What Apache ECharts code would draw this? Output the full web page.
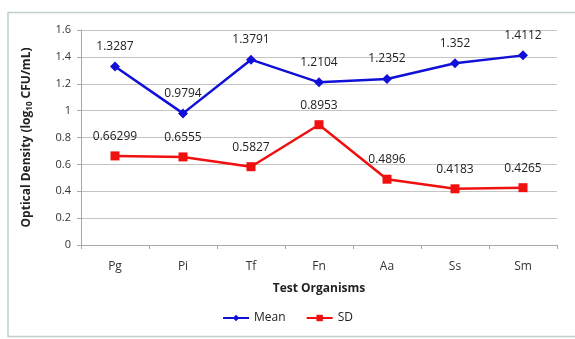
<!DOCTYPE html>
<html>
<head>
<meta charset="utf-8">
<script src="https://cdn.jsdelivr.net/npm/echarts@6/dist/echarts.min.js"></script>
<style>
html,body{margin:0;padding:0;background:#fff;}
#chart{width:575px;height:339px;}
</style>
</head>
<body>
<div id="chart"></div>
<script>
// Test organisms on the x axis
const organisms = ['Pg', 'Pi', 'Tf', 'Fn', 'Aa', 'Ss', 'Sm'];
// Optical density values (log10 CFU/mL)
const meanValues = [1.3287, 0.9794, 1.3791, 1.2104, 1.2352, 1.352, 1.4112];
const sdValues = [0.66299, 0.6555, 0.5827, 0.8953, 0.4896, 0.4183, 0.4265];
const yTicks = [0, 0.2, 0.4, 0.6, 0.8, 1, 1.2, 1.4, 1.6];

const font = '"Open Sans", "Liberation Sans", sans-serif';
const chart = echarts.init(document.getElementById('chart'), null, {renderer: 'canvas'});

chart.setOption({
  animation: false,
  backgroundColor: '#fff',
  textStyle: {fontFamily: font},
  graphic: [{
    type: 'rect',
    shape: {x: 8, y: 12.5, width: 580, height: 324},
    style: {fill: 'none', stroke: '#bfcfcf', lineWidth: 1.5},
    silent: true
  }],
  grid: {left: 81, right: 18, top: 30, bottom: 94},
  legend: {
    data: [{name: 'Mean'}, {name: 'SD'}],
    bottom: 10,
    left: 'center',
    itemWidth: 26,
    itemHeight: 8,
    itemGap: 20,
    textStyle: {fontFamily: font, fontSize: 12, color: '#222'}
  },
  xAxis: {
    type: 'category',
    data: organisms,
    boundaryGap: true,
    name: 'Test Organisms',
    nameLocation: 'middle',
    nameGap: 38,
    nameTextStyle: {fontFamily: font, fontWeight: 'bold', fontSize: 12, color: '#222'},
    axisLine: {lineStyle: {color: '#a8a8a8'}},
    axisTick: {show: true, length: 4, lineStyle: {color: '#a8a8a8'}},
    axisLabel: {margin: 16, fontSize: 12, color: '#333', fontFamily: font}
  },
  yAxis: {
    type: 'value',
    min: 0,
    max: 1.6,
    interval: 0.2,
    name: '{b|Optical Density (log}{s|10}{b| CFU/mL)}',
    nameLocation: 'middle',
    nameGap: 47,
    nameTextStyle: {
      rich: {
        b: {fontFamily: font, fontWeight: 'bold', fontSize: 12, color: '#222'},
        s: {fontFamily: font, fontWeight: 'bold', fontSize: 8, color: '#222', verticalAlign: 'bottom', padding: [6, 0, 0, 0]}
      }
    },
    axisLine: {show: true, lineStyle: {color: '#a8a8a8'}},
    axisTick: {show: true, length: 4, lineStyle: {color: '#a8a8a8'}},
    splitLine: {lineStyle: {color: '#c4c4c4'}},
    axisLabel: {
      margin: 10, fontSize: 11, color: '#333', fontFamily: font,
      formatter: v => {
        const t = yTicks.find(x => Math.abs(x - v) < 1e-9);
        return t === undefined ? '' : String(t);
      }
    }
  },
  series: [
    {
      name: 'Mean',
      type: 'line',
      data: meanValues,
      color: '#1010d8',
      symbol: 'diamond',
      symbolSize: 10,
      lineStyle: {width: 2.5, color: '#1010d8'},
      itemStyle: {color: '#1010d8'},
      label: {show: true, position: 'top', distance: 9, fontSize: 12, color: '#222', fontFamily: font,
        formatter: p => String(meanValues[p.dataIndex])}
    },
    {
      name: 'SD',
      type: 'line',
      data: sdValues,
      color: '#f01010',
      symbol: 'rect',
      symbolSize: 9,
      lineStyle: {width: 2.5, color: '#f01010'},
      itemStyle: {color: '#f01010'},
      label: {show: true, position: 'top', distance: 9, fontSize: 12, color: '#222', fontFamily: font,
        formatter: p => String(sdValues[p.dataIndex])}
    }
  ]
});
</script>
</body>
</html>
